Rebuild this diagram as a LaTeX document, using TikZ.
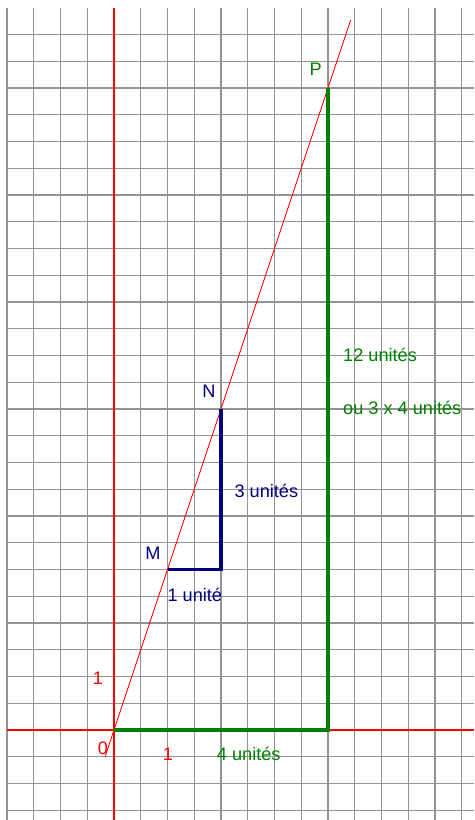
\documentclass[tikz,border=0pt]{standalone}
\usepackage{fontspec}
\setmainfont{Liberation Sans}
\begin{document}
\begin{tikzpicture}[x=1.605cm,y=1.605cm,
  gridline/.style={draw=gray!85,line width=1.1pt},
  axisline/.style={draw=red,line width=1.1pt},
  slopeline/.style={draw=red,line width=0.75pt},
  bluepath/.style={draw=navy,line width=2.8pt},
  greenpath/.style={draw=darkgreen,line width=3.4pt},
  lbl/.style={inner sep=0pt,font=\fontsize{15.5pt}{17pt}\selectfont},
]
\definecolor{navy}{RGB}{0,0,128}
\definecolor{darkgreen}{RGB}{0,128,0}
\useasboundingbox (-2.131,-1.682) rectangle (6.729,13.645);
\fill[white] (-2.131,-1.682) rectangle (6.729,13.645);
% grid
\foreach \i in {-4,...,13} {
  \draw[gridline] (\i*0.5,-1.682) -- (\i*0.5,13.495);
}
\foreach \j in {-3,...,26} {
  \draw[gridline] (-2,\j*0.5) -- (6.729,\j*0.5);
}
% axes
\coordinate (O) at (0,0);
\coordinate (ytop) at (0,13.495);
\coordinate (ybot) at (0,-1.682);
\coordinate (xl) at (-2,0);
\coordinate (xr) at (6.729,0);
\draw[axisline] (ybot) -- (ytop);
\draw[axisline] (xl) -- (xr);
% slope line y=3x
\coordinate (s0) at (-0.1667,-0.5);
\coordinate (s1) at (4.425,13.275);
\draw[slopeline] (s0) -- (s1);
% blue triangle
\coordinate (M) at (1,3);
\coordinate (Q) at (2,3);
\coordinate (N) at (2,6);
\draw[bluepath] (M) -- (Q) -- (N);
% green triangle
\coordinate (R) at (4,0);
\coordinate (P) at (4,12);
\draw[greenpath] (O) -- (R) -- (P);
% labels
\node[lbl,text=darkgreen,anchor=base] (lP) at (3.77,12.243) {P};
\node[lbl,text=navy,anchor=base] (lN) at (1.776,6.206) {N};
\node[lbl,text=navy,anchor=base] (lM) at (0.729,3.196) {M};
\node[lbl,text=navy,anchor=base west] (l3u) at (2.249,4.350) {3 unités};
\node[lbl,text=navy,anchor=base west] (l1u) at (0.996,2.411) {1 unité};
\node[lbl,text=darkgreen,anchor=base west] (l12) at (4.280,6.888) {12 unités};
\node[lbl,text=darkgreen,anchor=base west] (l34) at (4.280,5.888) {ou 3 x 4 unités};
\node[lbl,text=darkgreen,anchor=base west] (l4u) at (1.920,-0.579) {4 unités};
\node[lbl,text=red,anchor=base] (ly1) at (-0.299,0.860) {1};
\node[lbl,text=red,anchor=base] (l0) at (-0.206,-0.467) {0};
\node[lbl,text=red,anchor=base] (lx1) at (1.009,-0.579) {1};
\end{tikzpicture}
\end{document}
